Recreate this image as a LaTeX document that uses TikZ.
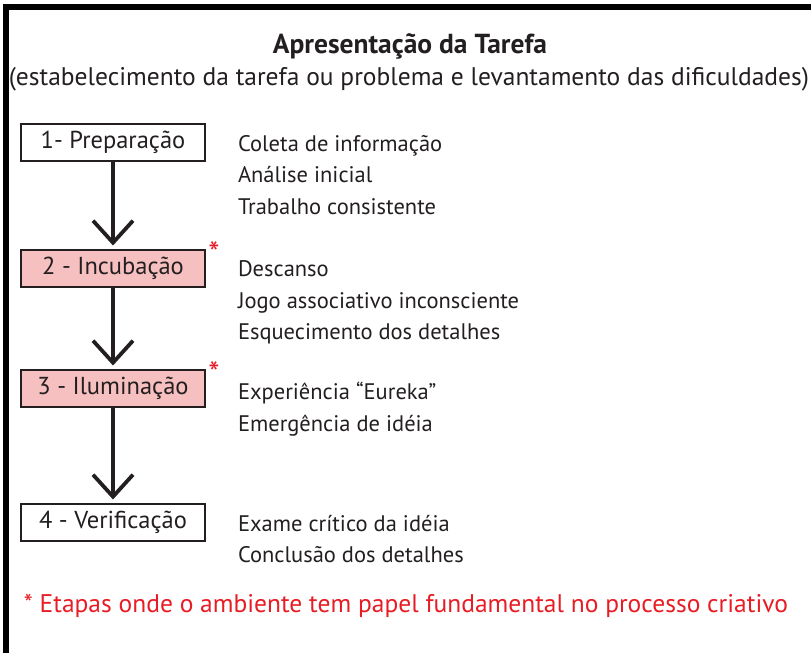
\documentclass[tikz,border=0pt]{standalone}
\usepackage{fontspec}
\setmainfont{PT Sans}
\usetikzlibrary{arrows.meta, positioning}
\definecolor{cpink}{RGB}{247,192,192}
\definecolor{cred}{RGB}{232,28,36}
\definecolor{cink}{RGB}{35,31,32}
\tikzset{
  every picture/.style={line width=2pt},
  stage/.style={draw=cink, fill=#1, minimum width=184pt, minimum height=37pt, inner sep=0pt, text=cink, font=\fontsize{24.5}{28}\selectfont},
  stage/.default=white,
  flow/.style={-{Straight Barb[length=22pt, width=40pt]}, draw=cink, line width=3.8pt, shorten >=3pt},
  desc/.style={anchor=north west, align=left, inner sep=0pt, text=cink, font=\fontsize{22.5}{31.5}\selectfont},
  starnote/.style={text=cred, inner sep=0pt, font=\fontsize{32}{36}\selectfont},
  heading/.style={text=cink, inner sep=0pt, font=\fontsize{25.5}{30}\selectfont},
}
\begin{document}
\begin{tikzpicture}[x=1pt, y=-1pt]
  \useasboundingbox (0,0) rectangle (811,653);
  \draw[line width=6pt, draw=black] (6,653) -- (6,7) -- (811,7);
  \node[heading, font=\fontsize{27.5}{32}\selectfont\bfseries] (title) at (410,46) {Apresentação da Tarefa};
  \node[heading] (sub) at (409,79) {(estabelecimento da tarefa ou problema e levantamento das dificuldades)};
  \node[stage] (prep) at (113,142) {1- Preparação};
  \node[stage=cpink] (incub) at (113,268) {2 - Incubação};
  \node[stage=cpink] (ilum) at (113,388) {3 - Iluminação};
  \node[stage] (verif) at (113,522) {4 - Verificação};
  \draw[flow] (prep) -- (incub);
  \draw[flow] (incub) -- (ilum);
  \draw[flow] (ilum) -- (verif);
  \node[starnote] (ast2) at ([shift={(8,5)}]incub.north east) {*};
  \node[starnote] (ast3) at ([shift={(8,5)}]ilum.north east) {*};
  \node[desc] (dprep) at (237,134) {Coleta de informação\\Análise inicial\\Trabalho consistente};
  \node[desc] (dincub) at (237,260) {Descanso\\Jogo associativo inconsciente\\Esquecimento dos detalhes};
  \node[desc] (dilum) at (237,381) {Experiência “Eureka”\\Emergência de idéia};
  \node[desc] (dverif) at (237,514) {Exame crítico da idéia\\Conclusão dos detalhes};
  \node[heading, text=cred] (foot) at (406,606) {* Etapas onde o ambiente tem papel fundamental no processo criativo};
\end{tikzpicture}
\end{document}
